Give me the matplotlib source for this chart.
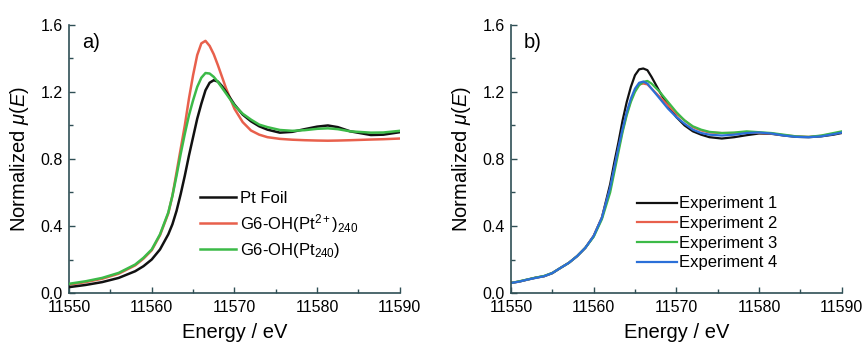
import numpy as np
import matplotlib
matplotlib.use("Agg")
import matplotlib.pyplot as plt
from matplotlib.ticker import MultipleLocator

plt.rcParams["font.family"] = ["Liberation Sans", "DejaVu Sans"]
plt.rcParams["mathtext.fontset"] = "custom"
plt.rcParams["mathtext.rm"] = "Liberation Sans"
plt.rcParams["mathtext.it"] = "Liberation Sans:italic"

# ---------------------------------------------------------------------------
# Panel a) data (read off the reference)
# ---------------------------------------------------------------------------
energy_a = [11550, 11552, 11554, 11556, 11558, 11559, 11560, 11561, 11562,
            11562.5, 11563, 11563.5, 11564, 11564.5, 11565, 11565.5, 11566,
            11566.5, 11567, 11567.5, 11568, 11568.5, 11569, 11570, 11571,
            11572, 11573, 11574, 11575.5, 11577, 11578.5, 11580, 11581.3,
            11582.5, 11584, 11586.5, 11588, 11590]

pt_foil = [0.035, 0.048, 0.065, 0.09, 0.13, 0.16, 0.20, 0.26, 0.35,
           0.41, 0.49, 0.59, 0.70, 0.82, 0.93, 1.04, 1.13,
           1.21, 1.255, 1.27, 1.262, 1.235, 1.20, 1.125, 1.065,
           1.025, 0.995, 0.975, 0.957, 0.962, 0.978, 0.993, 1.0,
           0.99, 0.965, 0.943, 0.945, 0.96]

g6_pt2 = [0.05, 0.065, 0.085, 0.115, 0.165, 0.205, 0.255, 0.345, 0.475,
          0.58, 0.72, 0.86, 1.00, 1.16, 1.30, 1.42, 1.49,
          1.505, 1.475, 1.425, 1.36, 1.29, 1.22, 1.10, 1.02,
          0.97, 0.945, 0.93, 0.92, 0.915, 0.912, 0.91, 0.909,
          0.91, 0.912, 0.916, 0.918, 0.922]

g6_pt240 = [0.055, 0.07, 0.09, 0.12, 0.17, 0.21, 0.26, 0.35, 0.48,
            0.58, 0.70, 0.83, 0.95, 1.06, 1.15, 1.23, 1.285,
            1.313, 1.31, 1.29, 1.26, 1.225, 1.19, 1.12, 1.07,
            1.035, 1.005, 0.99, 0.973, 0.968, 0.972, 0.98, 0.983,
            0.978, 0.965, 0.957, 0.958, 0.968]

# ---------------------------------------------------------------------------
# Panel b) data
# ---------------------------------------------------------------------------
energy_b = [11550, 11551, 11552, 11553, 11554, 11555, 11556, 11557, 11558,
            11559, 11560, 11561, 11562, 11562.5, 11563, 11563.5, 11564,
            11564.5, 11565, 11565.5, 11566, 11566.5, 11567, 11568, 11569,
            11570, 11571, 11572, 11573, 11574, 11575.5, 11577, 11578.5,
            11580, 11581.5, 11583, 11584.5, 11586, 11587.5, 11589, 11590]

exp1 = [0.06, 0.068, 0.08, 0.092, 0.10, 0.118, 0.15, 0.18, 0.22,
        0.27, 0.34, 0.45, 0.65, 0.78, 0.90, 1.03, 1.14,
        1.23, 1.30, 1.335, 1.34, 1.33, 1.29, 1.20, 1.12,
        1.05, 1.00, 0.965, 0.945, 0.93, 0.922, 0.93, 0.942,
        0.952, 0.95, 0.94, 0.932, 0.93, 0.935, 0.945, 0.955]

exp2 = [0.06, 0.069, 0.08, 0.091, 0.10, 0.12, 0.15, 0.18, 0.22,
        0.27, 0.34, 0.45, 0.62, 0.74, 0.86, 0.97, 1.07,
        1.15, 1.21, 1.245, 1.25, 1.245, 1.22, 1.17, 1.12,
        1.07, 1.03, 0.99, 0.97, 0.958, 0.955, 0.955, 0.958,
        0.955, 0.952, 0.942, 0.935, 0.932, 0.938, 0.95, 0.96]

exp3 = [0.06, 0.07, 0.081, 0.092, 0.102, 0.12, 0.15, 0.18, 0.22,
        0.27, 0.335, 0.44, 0.60, 0.72, 0.84, 0.96, 1.06,
        1.14, 1.20, 1.24, 1.26, 1.266, 1.25, 1.20, 1.14,
        1.08, 1.03, 0.995, 0.975, 0.962, 0.955, 0.958, 0.965,
        0.96, 0.955, 0.945, 0.935, 0.932, 0.94, 0.955, 0.965]

exp4 = [0.06, 0.068, 0.08, 0.09, 0.10, 0.119, 0.15, 0.18, 0.22,
        0.27, 0.34, 0.45, 0.63, 0.75, 0.87, 0.98, 1.08,
        1.16, 1.22, 1.255, 1.262, 1.25, 1.22, 1.16, 1.10,
        1.05, 1.01, 0.975, 0.955, 0.945, 0.94, 0.945, 0.955,
        0.958, 0.952, 0.94, 0.932, 0.93, 0.935, 0.948, 0.958]

labels_a = ["Pt Foil", r"G6-OH(Pt$^{2+}$)$_{240}$", r"G6-OH(Pt$_{240}$)"]
labels_b = ["Experiment 1", "Experiment 2", "Experiment 3", "Experiment 4"]

C_BLACK = "#111111"
C_RED = "#e8604c"
C_GREEN = "#3cba48"
C_BLUE = "#2b6fd8"
AXIS_C = "#2f4f55"


def style_axis(ax, tag):
    ax.set_xlim(11550, 11590)
    ax.set_ylim(0.0, 1.6)
    ax.xaxis.set_major_locator(MultipleLocator(10))
    ax.xaxis.set_minor_locator(MultipleLocator(5))
    ax.yaxis.set_major_locator(MultipleLocator(0.4))
    ax.yaxis.set_minor_locator(MultipleLocator(0.2))
    ax.yaxis.set_major_formatter(matplotlib.ticker.FormatStrFormatter("%.1f"))
    for side in ("top", "right"):
        ax.spines[side].set_visible(False)
    for side in ("left", "bottom"):
        ax.spines[side].set_color(AXIS_C)
        ax.spines[side].set_linewidth(1.2)
    ax.tick_params(which="both", direction="in", color=AXIS_C, labelsize=11.5)
    ax.tick_params(axis="x", pad=5)
    ax.tick_params(axis="y", pad=4.5)
    ax.tick_params(which="major", length=4, width=1.0)
    ax.tick_params(which="minor", length=3, width=1.0)
    ax.set_xlabel("Energy / eV", fontsize=14.5, labelpad=6)
    ax.set_ylabel(r"Normalized $\mu$($E$)", fontsize=14.5, labelpad=7)
    ax.text(0.04, 0.97, tag, transform=ax.transAxes, fontsize=14.5,
            va="top", ha="left")


fig = plt.figure(figsize=(8.66, 3.45), dpi=100)
ax_a = fig.add_axes([0.0797, 0.1507, 0.382, 0.777])
ax_b = fig.add_axes([0.590, 0.1507, 0.382, 0.777])

ax_a.plot(energy_a, pt_foil, color=C_BLACK, lw=1.8, label=labels_a[0], zorder=3)
ax_a.plot(energy_a, g6_pt2, color=C_RED, lw=1.8, label=labels_a[1], zorder=2)
ax_a.plot(energy_a, g6_pt240, color=C_GREEN, lw=1.8, label=labels_a[2], zorder=4)
style_axis(ax_a, "a)")
ax_a.legend(loc="upper left", bbox_to_anchor=(0.375, 0.405), frameon=False,
            fontsize=12, handlelength=2.2, handletextpad=0.2,
            labelspacing=0.35, borderaxespad=0)

for vals, c, lbl in zip([exp1, exp2, exp3, exp4],
                        [C_BLACK, C_RED, C_GREEN, C_BLUE], labels_b):
    ax_b.plot(energy_b, vals, color=c, lw=1.6, label=lbl)
style_axis(ax_b, "b)")
ax_b.legend(loc="upper left", bbox_to_anchor=(0.36, 0.385), frameon=False,
            fontsize=12, handlelength=2.4, handletextpad=0.15,
            labelspacing=0.28, borderaxespad=0)

fig.savefig("out.png", dpi=100)
